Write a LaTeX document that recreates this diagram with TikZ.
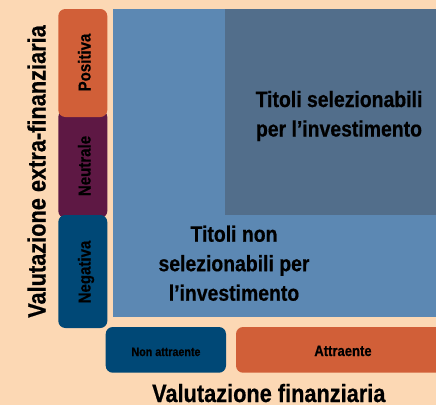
\documentclass[tikz,border=0pt]{standalone}
\usepackage{fontspec}
\setmainfont{Liberation Sans}
\newfontfamily\narrowbold{Liberation Sans Bold}[FakeStretch=0.87, FakeBold=0.6]
\definecolor{peach}{HTML}{FCD8B4}
\definecolor{orng}{HTML}{D15F38}
\definecolor{purp}{HTML}{5E1844}
\definecolor{navy}{HTML}{004876}
\definecolor{midblue}{HTML}{5C88B3}
\definecolor{slate}{HTML}{526E8B}
\tikzset{
  tagbox/.style={rounded corners=7pt},
  sidelbl/.style={rotate=90, anchor=base, inner sep=0pt, font=\narrowbold\fontsize{17.3}{19}\selectfont},
  bigtxt/.style={align=center, anchor=base, inner sep=0pt, font=\narrowbold\fontsize{22.3}{29.5}\selectfont},
  axislbl/.style={anchor=base, inner sep=0pt, font=\narrowbold\fontsize{25}{28}\selectfont}
}
\begin{document}
\begin{tikzpicture}[x=1pt,y=-1pt]
\useasboundingbox (0,0) rectangle (436,405);
\clip (0,0) rectangle (436,405);
\fill[peach] (0,0) rectangle (436,405);
% matrix areas
\fill[midblue] (113,9) rectangle (445,317);
\fill[slate] (225,9) rectangle (445,215);
% side boxes
\fill[purp, tagbox] (58.3,110) rectangle (107.3,218);
\fill[orng, tagbox] (58.3,9) rectangle (107.3,117);
\fill[navy, tagbox] (58.3,215) rectangle (107.3,328);
\node[sidelbl] (pos) at (90.5,62.5) {Positiva};
\node[sidelbl] (neu) at (90.5,166) {Neutrale};
\node[sidelbl] (neg) at (90.5,272) {Negativa};
% bottom boxes
\fill[navy, tagbox] (105.7,327) rectangle (226,372.7);
\fill[orng, tagbox] (236,327) rectangle (450,372.7);
\node[anchor=base, inner sep=0pt, font=\narrowbold\fontsize{12.3}{14}\selectfont] (nonattr) at (166,356) {Non attraente};
\node[anchor=base, inner sep=0pt, font=\narrowbold\fontsize{15}{17}\selectfont] (attr) at (343,356) {Attraente};
% area labels
\node[bigtxt] (sel) at (339,136.5) {Titoli selezionabili\\per l’investimento};
\node[bigtxt] (nonsel) at (234,300.7) {Titoli non\\selezionabili per\\l’investimento};
% axis labels
\node[axislbl] (xlab) at (268.8,402) {Valutazione finanziaria};
\node[axislbl, rotate=90] (ylab) at (45.5,171.5) {Valutazione extra-finanziaria};
\end{tikzpicture}
\end{document}
